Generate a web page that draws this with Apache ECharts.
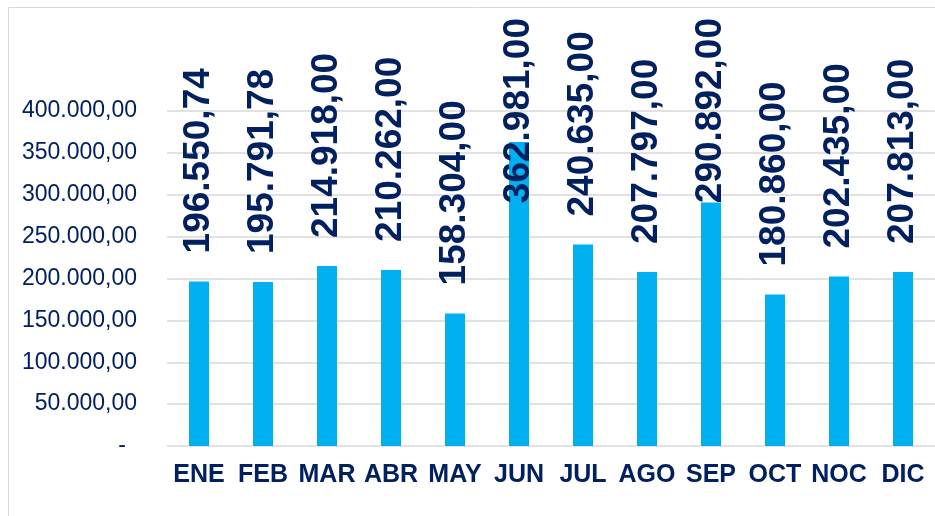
<!DOCTYPE html>
<html>
<head>
<meta charset="utf-8">
<script src="https://cdn.jsdelivr.net/npm/echarts@6/dist/echarts.min.js"></script>
<style>
html,body{margin:0;padding:0;background:#fff;}
#chart{width:935px;height:516px;}
</style>
</head>
<body>
<div id="chart"></div>
<script>
const categories = ['ENE','FEB','MAR','ABR','MAY','JUN','JUL','AGO','SEP','OCT','NOC','DIC'];
const values = [196550.74, 195791.78, 214918.00, 210262.00, 158304.00, 362981.00, 240635.00, 207797.00, 290892.00, 180860.00, 202435.00, 207813.00];
const yTicks = [0, 50000, 100000, 150000, 200000, 250000, 300000, 350000, 400000];

function fmt(v){
  const parts = v.toFixed(2).split('.');
  const intPart = parts[0].replace(/\B(?=(\d{3})+(?!\d))/g, '.');
  return intPart + ',' + parts[1];
}

const navy = '#002060';
const FONT = '"Liberation Sans", Arial, sans-serif';
const LABEL_SIZE = 37;
const LABEL_DIST = 28;
const LABEL_MIN_TOP = 18;

const chart = echarts.init(document.getElementById('chart'));
const option = {
  animation: false,
  backgroundColor: '#ffffff',
  graphic: [{
    type: 'rect',
    shape: { x: 8.5, y: 7.5, width: 1000, height: 1000 },
    style: { fill: 'none', stroke: '#D9D9D9', lineWidth: 1 },
    silent: true, z: -1
  }],
  grid: { left: 167, top: 111, width: 778, bottom: 70, containLabel: false },
  xAxis: {
    type: 'category',
    data: categories,
    axisLine: { show: false },
    axisTick: { show: false },
    axisLabel: { color: navy, fontWeight: 'bold', fontSize: 25, fontFamily: FONT, margin: 17, interval: 0 }
  },
  yAxis: {
    type: 'value',
    min: yTicks[0],
    max: yTicks[yTicks.length - 1],
    interval: yTicks[1] - yTicks[0],
    axisLine: { show: false },
    axisTick: { show: false },
    splitLine: { lineStyle: { color: '#D9D9D9', width: 1.5 } },
    axisLabel: {
      color: navy, fontSize: 23, fontFamily: FONT, margin: 30,
      formatter: v => v === 0 ? '{d|-}' : fmt(v),
      rich: { d: { color: navy, fontSize: 23, fontFamily: FONT, padding: [0, 11, 0, 0] } }
    }
  },
  series: [{
    type: 'bar',
    data: values.map(v => ({ value: v })),
    barWidth: 20,
    itemStyle: { color: '#00B0F0' },
    label: {
      show: true,
      position: 'top',
      distance: LABEL_DIST,
      rotate: 90,
      align: 'left',
      verticalAlign: 'middle',
      color: navy,
      fontWeight: 'bold',
      fontSize: LABEL_SIZE,
      fontFamily: FONT,
      formatter: p => fmt(p.value)
    }
  }]
};
chart.setOption(option);

// Keep labels inside the chart area (like the original): clamp label top.
const ctx = document.createElement('canvas').getContext('2d');
ctx.font = 'bold ' + LABEL_SIZE + 'px ' + FONT;
const adjusted = values.map((v, i) => {
  const barTop = chart.convertToPixel({ yAxisIndex: 0 }, v);
  const len = ctx.measureText(fmt(v)).width;
  const bottom = barTop - LABEL_DIST;
  if (bottom - len < LABEL_MIN_TOP) {
    const newBottom = LABEL_MIN_TOP + len;
    return { value: v, label: { position: ['50%', newBottom - barTop] } };
  }
  return { value: v };
});
chart.setOption({ series: [{ data: adjusted }] });
</script>
</body>
</html>
